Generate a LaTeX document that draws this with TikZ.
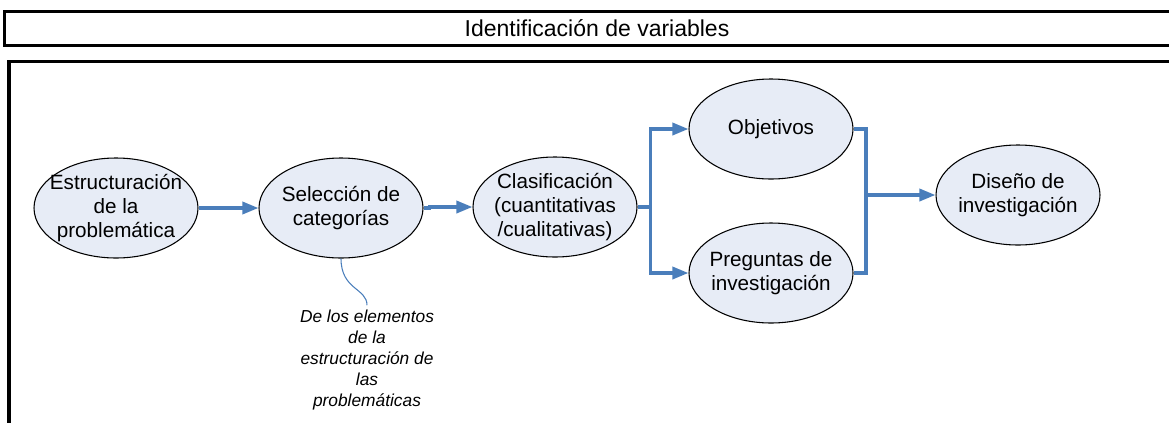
\documentclass[tikz,border=0pt]{standalone}
\usepackage{fontspec}
\setmainfont{Liberation Sans}
\usetikzlibrary{shapes.geometric,arrows.meta}
\definecolor{azul}{HTML}{4A7EBB}
\definecolor{fondo}{HTML}{E7ECF6}
\tikzset{
  etapa/.style={ellipse,draw=black,line width=0.8pt,fill=fondo,inner sep=0pt,
    minimum width=123pt,minimum height=75pt},
  etiq/.style={align=center,font=\fontsize{15.5}{18}\selectfont},
  flecha/.style={draw=azul,line width=2.5pt,-{Triangle[length=12pt,width=9pt]}},
  linea/.style={draw=azul,line width=2.5pt},
  fino/.style={draw=azul,line width=0.8pt},
  nota/.style={align=center,font=\fontsize{13}{15.75}\selectfont\itshape},
  marco/.style={draw=black,line width=2.4pt}
}
\begin{document}
\begin{tikzpicture}[x=0.75pt,y=-0.75pt]
\useasboundingbox (0,0) rectangle (1169,422);
\clip (0,0) rectangle (1169,422);
\draw[marco] (4.5,11.5) rectangle (1180,45.5);
\draw[marco] (9,61.5) rectangle (1180,440);
\node[font=\fontsize{17.25}{20}\selectfont] (tit) at (597,28) {Identificación de variables};
\node[etapa,label={[etiq]center:Estructuración\\de la\\problemática}] (estr) at (116,208) {};
\node[etapa,label={[etiq]center:Selección de\\categorías}] (sel) at (341,208) {};
\node[etapa,label={[etiq]center:Clasificación\\(cuantitativas\\/cualitativas)}] (clas) at (555,207) {};
\node[etapa,label={[etiq]center:Objetivos}] (obj) at (771,129) {};
\node[etapa,label={[etiq]center:Preguntas de\\investigación}] (preg) at (771,273) {};
\node[etapa,label={[etiq]center:Diseño de\\investigación}] (dis) at (1018,195) {};
\node[nota] (nota) at (367,360) {De los elementos\\de la\\estructuración de\\las\\problemáticas};
\draw[flecha] (estr) -- (sel);
\draw[flecha] (sel.east) -- ++(6,0) |- (clas.west);
\draw[flecha] (clas.east) -- ++(13,0) coordinate (rama) |- (obj.west);
\draw[flecha] (rama) |- (preg.west);
\coordinate (junta) at (866,195);
\draw[linea] (obj.east) -| (junta) |- (preg.east);
\draw[flecha] (junta) -- (dis.west);
\draw[fino] (sel.south) .. controls (341,290) and (367,288) .. (nota.north);
\end{tikzpicture}
\end{document}
